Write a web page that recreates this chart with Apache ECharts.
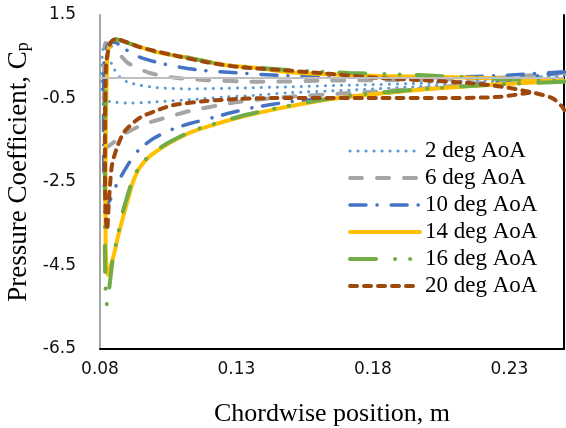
<html>
<head>
    <meta charset="utf-8">
    <title>Pressure Coefficient</title>
    <script src="https://cdn.jsdelivr.net/npm/echarts@6/dist/echarts.min.js"></script>
</head>
<body style="margin:0">
    <div id="chartmain" style="width:566px; height:428px;"></div>

    <script type="text/javascript">
        // x: chordwise position (m), y: Cp. each curve goes TE -> LE on suction side, then LE -> TE on pressure side
        var seriesNames = ['2 deg AoA', '6 deg AoA', '10 deg AoA', '14 deg AoA', '16 deg AoA', '20 deg AoA'];

        var aoa2 = [
            [0.2501, 0.06], [0.2263, -0.08], [0.2007, -0.20], [0.1714, -0.30], [0.1495, -0.36], [0.1374, -0.42],
            [0.1250, -0.47], [0.1129, -0.53], [0.1008, -0.58], [0.0910, -0.61], [0.0855, -0.59], [0.0818, -0.54],
            [0.0809, -0.40], [0.0806, 0.00], [0.0808, 0.50], [0.0815, 0.78],
            [0.0826, 0.60], [0.0848, 0.25], [0.0873, 0.01], [0.0899, -0.10], [0.0946, -0.18], [0.1008, -0.24],
            [0.1129, -0.27], [0.1312, -0.25], [0.1495, -0.22], [0.1714, -0.18], [0.2007, -0.13], [0.2263, -0.04],
            [0.2501, 0.06]
        ];
        var aoa6 = [
            [0.2501, 0.12], [0.2263, -0.08], [0.2007, -0.25], [0.1714, -0.37], [0.1469, -0.47], [0.1312, -0.58],
            [0.1228, -0.67], [0.1129, -0.80], [0.1045, -0.95], [0.0960, -1.12], [0.0902, -1.30], [0.0866, -1.47],
            [0.0844, -1.58], [0.0826, -1.66], [0.0818, -1.40], [0.0815, -0.50], [0.0815, 0.30], [0.0820, 0.83],
            [0.0840, 0.75], [0.0866, 0.60], [0.0902, 0.35], [0.0983, 0.11], [0.1082, -0.01], [0.1191, -0.06],
            [0.1312, -0.09], [0.1396, -0.10], [0.1641, -0.07], [0.2007, -0.05], [0.2263, 0.00], [0.2501, 0.12]
        ];
        var aoa10 = [
            [0.2501, 0.14], [0.2263, -0.10], [0.2007, -0.27], [0.1714, -0.45], [0.1495, -0.58], [0.1360, -0.72],
            [0.1286, -0.83], [0.1213, -0.96], [0.1129, -1.10], [0.1056, -1.26], [0.0993, -1.47], [0.0935, -1.78],
            [0.0891, -2.21], [0.0855, -2.64], [0.0837, -2.93], [0.0822, -3.05], [0.0815, -2.60],
            [0.0813, -1.00], [0.0815, 0.30], [0.0829, 0.80],
            [0.0855, 0.85], [0.0880, 0.73], [0.0946, 0.49], [0.1019, 0.35], [0.1093, 0.25], [0.1166, 0.18],
            [0.1312, 0.11], [0.1469, 0.05], [0.1714, 0.02], [0.2007, 0.00], [0.2263, 0.05], [0.2501, 0.14]
        ];
        var aoa14 = [
            [0.2501, -0.08], [0.2263, -0.16], [0.2007, -0.27], [0.1824, -0.38], [0.1641, -0.52], [0.1440, -0.76],
            [0.1312, -0.95], [0.1191, -1.18], [0.1129, -1.32], [0.1045, -1.60], [0.0983, -1.88], [0.0946, -2.15],
            [0.0921, -2.50], [0.0902, -2.93], [0.0880, -3.45], [0.0866, -3.80], [0.0855, -4.13], [0.0840, -4.50],
            [0.0829, -4.73], [0.0822, -4.30], [0.0820, -3.00], [0.0822, -1.00], [0.0826, 0.30], [0.0830, 0.65],
            [0.0840, 0.85], [0.0860, 0.92], [0.0885, 0.87], [0.1008, 0.61], [0.1129, 0.47], [0.1250, 0.31],
            [0.1374, 0.23], [0.1495, 0.13], [0.1641, 0.08], [0.1824, 0.04], [0.2007, 0.02], [0.2263, -0.02],
            [0.2501, -0.08]
        ];
        var aoa16 = [
            [0.2501, -0.10], [0.2263, -0.16], [0.2007, -0.26], [0.1824, -0.36], [0.1641, -0.50], [0.1440, -0.74],
            [0.1312, -0.93], [0.1191, -1.16], [0.1129, -1.30], [0.1045, -1.58], [0.0983, -1.86], [0.0946, -2.12],
            [0.0921, -2.42], [0.0902, -2.80], [0.0880, -3.30], [0.0866, -3.77], [0.0848, -4.30], [0.0840, -4.70],
            [0.0833, -5.10], [0.0826, -5.45], [0.0820, -5.00], [0.0818, -4.00], [0.0818, -2.00], [0.0822, 0.30],
            [0.0830, 0.65], [0.0840, 0.85], [0.0860, 0.92], [0.0885, 0.87], [0.1008, 0.61], [0.1129, 0.47],
            [0.1250, 0.31], [0.1374, 0.24], [0.1495, 0.18], [0.1714, 0.11], [0.1970, 0.06], [0.2263, -0.03],
            [0.2501, -0.08]
        ];
        var aoa20 = [
            [0.2373, -0.36], [0.2263, -0.46], [0.2080, -0.49], [0.1824, -0.49], [0.1433, -0.49], [0.1312, -0.51],
            [0.1191, -0.56], [0.1067, -0.66], [0.1019, -0.76], [0.0946, -0.96], [0.0891, -1.28], [0.0866, -1.61],
            [0.0844, -2.09], [0.0833, -2.93], [0.0826, -3.65], [0.0820, -3.20], [0.0818, -1.50], [0.0822, 0.30],
            [0.0830, 0.65], [0.0840, 0.85], [0.0860, 0.93], [0.0885, 0.88], [0.0946, 0.73], [0.1067, 0.54],
            [0.1191, 0.37], [0.1312, 0.25], [0.1469, 0.18], [0.1641, 0.09], [0.1824, -0.01], [0.1981, -0.06],
            [0.2153, -0.13], [0.2274, -0.22], [0.2373, -0.34], [0.2457, -0.49], [0.2494, -0.70], [0.2501, -0.78]
        ];

        var curves = [aoa2, aoa6, aoa10, aoa14, aoa16, aoa20];
        var colors = ['#5B9BD5', '#A5A5A5', '#4472C4', '#FFC000', '#70AD47', '#9E480E'];
        var widths = [3, 4, 3.5, 4, 4, 4];
        var dashes = [
            [0.1, 7.9],
            [12, 15],
            [16, 11, 0.1, 14],
            'solid',
            [26, 19, 0.1, 15, 0.1, 17],
            [7, 7]
        ];

        var myChart = echarts.init(document.getElementById('chartmain'));

        var series = curves.map(function (d, i) {
            var s = {
                name: seriesNames[i],
                type: 'line',
                data: d,
                smooth: 0.25,
                symbol: 'none',
                showSymbol: false,
                lineStyle: {
                    color: colors[i],
                    width: widths[i],
                    type: dashes[i],
                    cap: 'round'
                },
                // no markers, also keeps the legend icon a plain line
                itemStyle: { color: colors[i], opacity: 0 }
            };
            if (i == 0) {
                // gray line at Cp = 0
                s.markLine = {
                    silent: true,
                    symbol: 'none',
                    label: { show: false },
                    lineStyle: { color: '#BFBFBF', width: 2, type: 'solid', opacity: 1 },
                    data: [{ yAxis: 0 }]
                };
            }
            return s;
        });

        myChart.setOption({
            animation: false,
            grid: { left: 100, right: 2, top: 15, bottom: 79, outerBoundsMode: 'none' },
            legend: {
                orient: 'vertical',
                left: 343,
                top: 134,
                itemWidth: 70,
                itemHeight: 14,
                itemGap: 3,
                itemStyle: { opacity: 0 },
                lineStyle: { width: 'inherit' },
                textStyle: {
                    fontFamily: 'Liberation Serif',
                    fontSize: 23,
                    lineHeight: 24,
                    color: '#000'
                },
                data: seriesNames
            },
            xAxis: {
                type: 'value',
                min: 0.08,
                max: 0.25,
                interval: 0.05,
                name: 'Chordwise position, m',
                nameLocation: 'middle',
                nameGap: 52,
                nameTextStyle: { fontFamily: 'Liberation Serif', fontSize: 26, color: '#000' },
                axisLine: { onZero: false, lineStyle: { color: '#000', width: 2 } },
                axisTick: { show: false },
                splitLine: { show: false },
                axisLabel: {
                    showMaxLabel: false,
                    margin: 12,
                    fontFamily: 'DejaVu Sans',
                    fontSize: 17,
                    color: '#111',
                    formatter: function (v) { return v.toFixed(2); }
                }
            },
            yAxis: [{
                type: 'value',
                min: -6.5,
                max: 1.5,
                interval: 2,
                name: 'Pressure Coefficient, C{sub|p}',
                nameLocation: 'middle',
                nameGap: 62,
                nameTextStyle: {
                    fontFamily: 'Liberation Serif',
                    fontSize: 27,
                    color: '#000',
                    padding: [0, 0, 0, 20],
                    rich: {
                        sub: { fontFamily: 'Liberation Serif', fontSize: 18, color: '#000', verticalAlign: 'bottom' }
                    }
                },
                axisLine: { show: true, lineStyle: { color: '#A6A6A6', width: 2 } },
                axisTick: { show: false },
                splitLine: { show: false },
                axisLabel: {
                    margin: 24,
                    fontFamily: 'DejaVu Sans',
                    fontSize: 17,
                    color: '#111',
                    formatter: function (v) { return v.toFixed(1); }
                }
            }, {
                type: 'value',
                position: 'right',
                min: -6.5,
                max: 1.5,
                interval: 2,
                axisLine: { show: true, lineStyle: { color: '#000', width: 2 } },
                axisTick: { show: false },
                axisLabel: { show: false },
                splitLine: { show: false }
            }],
            series: series
        });
    </script>
</body>
</html>
